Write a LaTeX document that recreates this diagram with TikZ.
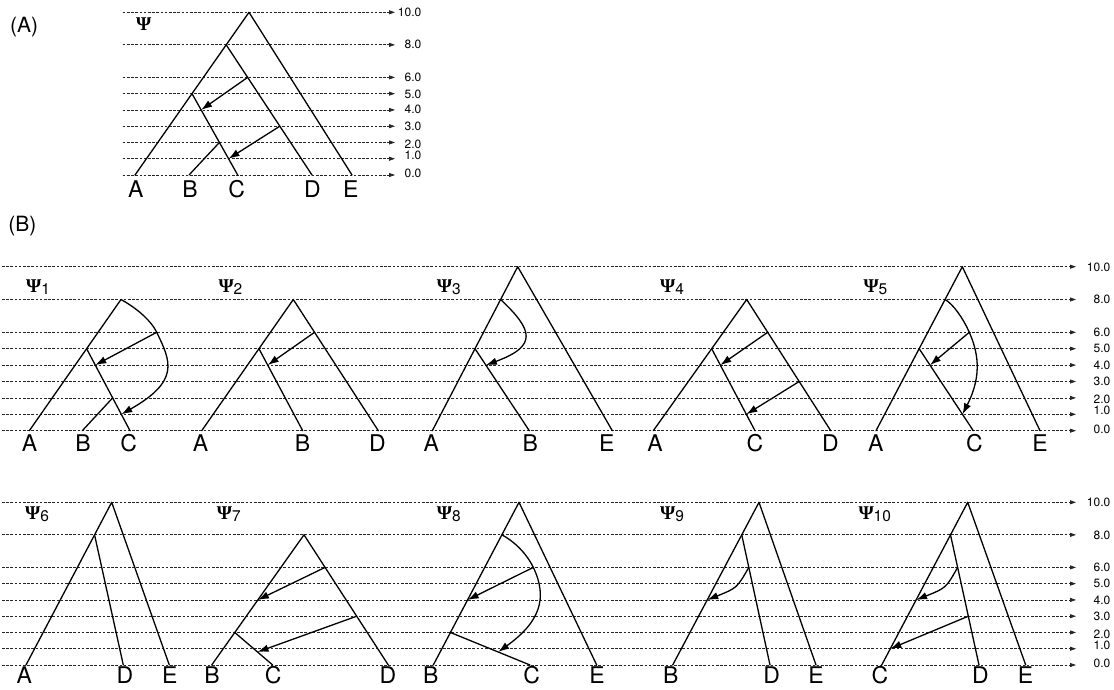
\documentclass[tikz,border=0pt]{standalone}
\usepackage{fontspec}
\setmainfont{TeX Gyre Heros}
\newfontfamily\psifont{Liberation Serif}
\usetikzlibrary{arrows.meta,calc}
\newcommand\psilab[1]{{\psifont\bfseries\fontsize{19.5}{19.5}\selectfont Ψ}\raisebox{-2pt}{\fontsize{15.5}{15.5}\selectfont #1}}
\begin{document}
\begin{tikzpicture}[x=1pt,y=-1pt,
 br/.style={line width=1.3pt, line cap=round, line join=round},
 mig/.style={br, -{Latex[length=11pt,width=7.5pt]}},
 axl/.style={line width=0.75pt, dash pattern=on 2.6pt off 1.6pt, black!85, -{Triangle[length=6pt,width=4pt]}},
 axv/.style={anchor=east, inner sep=0pt, font=\fontsize{12}{12}\selectfont},
 leaf/.style={anchor=base, inner sep=0pt, font=\fontsize{23}{23}\selectfont},
 psil/.style={anchor=base west, inner sep=0pt},
 panel/.style={anchor=base west, inner sep=0pt, font=\fontsize{21}{21}\selectfont}]
\useasboundingbox (0,0) rectangle (1114,689);

% panel labels
\node[panel] (pA) at (10,32.3) {(A)};
\node[panel] (pB) at (8.3,231.7) {(B)};

% axis lines, part A
\foreach \i/\v/\y/\ly in {1/10.0/12.3/12.3, 2/8.0/44.84/44.5, 3/6.0/77.38/77.4, 4/5.0/93.65/93.9, 5/4.0/109.92/109.8, 6/3.0/126.19/126.2, 7/2.0/142.46/144, 8/1.0/158.73/155.2, 9/0.0/175/173.3}{
  \coordinate (aL\i) at (122.7,\y);
  \coordinate (aR\i) at (395,\y);
  \draw[axl] (aL\i) -- (aR\i);
  \node[axv] (aV\i) at (421.5,\ly) {\v};
}
% axis lines, row 1
\foreach \i/\v/\y/\ly in {1/10.0/266.7/267.2, 2/8.0/299.5/299.8, 3/6.0/332.3/332.3, 4/5.0/348.7/348.7, 5/4.0/365.1/365.1, 6/3.0/381.5/381.5, 7/2.0/397.9/399.4, 8/1.0/414.3/410.8, 9/0.0/430.7/429}{
  \coordinate (bL\i) at (2,\y);
  \coordinate (bR\i) at (1076,\y);
  \draw[axl] (bL\i) -- (bR\i);
  \node[axv] (bV\i) at (1110.5,\ly) {\v};
}
% axis lines, row 2
\foreach \i/\v/\y/\ly in {1/10.0/502.3/502.8, 2/8.0/534.84/535.1, 3/6.0/567.38/567.4, 4/5.0/583.65/583.7, 5/4.0/599.92/599.9, 6/3.0/616.19/616.2, 7/2.0/632.46/634, 8/1.0/648.73/645.2, 9/0.0/665/663.3}{
  \coordinate (cL\i) at (2,\y);
  \coordinate (cR\i) at (1076,\y);
  \draw[axl] (cL\i) -- (cR\i);
  \node[axv] (cV\i) at (1110.5,\ly) {\v};
}

% ---------- Part A ----------
\node[psil] (psiA) at (136,30) {{\psifont\bfseries\fontsize{19.5}{19.5}\selectfont Ψ}};
\coordinate (AR) at (249,12.3);
\coordinate (AA) at (135,175);
\coordinate (AB) at (189,175);
\coordinate (AC) at (237.7,175);
\coordinate (AD) at (312,175);
\coordinate (AE) at (352,175);
\coordinate (An8) at ($(AA)!0.8!(AR)$);
\coordinate (An5) at ($(AA)!0.5!(AR)$);
\coordinate (An2) at ($(An5)!0.6!(AC)$);
\coordinate (As6) at ($(An8)!0.25!(AD)$);
\coordinate (As3) at ($(An8)!0.625!(AD)$);
\coordinate (At4) at ($(An5)!0.2!(AC)$);
\coordinate (At1) at ($(An5)!0.8!(AC)$);
\draw[br] (AA) -- (AR) -- (AE);
\draw[br] (An8) -- (AD);
\draw[br] (An5) -- (AC);
\draw[br] (AB) -- (An2);
\draw[mig] (As6) -- (At4);
\draw[mig] (As3) -- (At1);
\node[leaf] (lAA) at (135.8,197.3) {A};
\node[leaf] (lAB) at (190,197.3) {B};
\node[leaf] (lAC) at (236.7,197.3) {C};
\node[leaf] (lAD) at (312.5,197.3) {D};
\node[leaf] (lAE) at (350.8,197.3) {E};

% ---------- Psi1 ----------
\node[psil] (psi1) at (26,292) {\psilab{1}};
\coordinate (aR) at (121,299.5);
\coordinate (aA) at (29.3,430.7);
\coordinate (aB) at (82.3,430.7);
\coordinate (aC) at (130,430.7);
\coordinate (a5) at ($(aA)!0.625!(aR)$);
\coordinate (a2) at ($(a5)!0.6!(aC)$);
\coordinate (a6) at (156.7,332.3);
\coordinate (a4t) at ($(a5)!0.2!(aC)$);
\coordinate (a1t) at ($(a5)!0.8!(aC)$);
\draw[br] (aA) -- (aR);
\draw[br] (a5) -- (aC);
\draw[br] (aB) -- (a2);
\draw[br] (aR) .. controls (133,306) and (150,318.5) .. (a6);
\draw[mig] (a6) .. controls (171,361.6) and (180,381) .. (a1t);
\draw[mig] (a6) -- (a4t);
\node[leaf] (l1A) at (29.5,451.7) {A};
\node[leaf] (l1B) at (83,451.7) {B};
\node[leaf] (l1C) at (128.7,451.7) {C};

% ---------- Psi2 ----------
\node[psil] (psi2) at (218.3,292) {\psilab{2}};
\coordinate (bR) at (293.3,299.5);
\coordinate (bA) at (201.7,430.7);
\coordinate (bB) at (302.7,430.7);
\coordinate (bD) at (378.3,430.7);
\coordinate (b5) at ($(bA)!0.625!(bR)$);
\coordinate (b6) at ($(bR)!0.25!(bD)$);
\coordinate (b4t) at ($(b5)!0.2!(bB)$);
\draw[br] (bA) -- (bR) -- (bD);
\draw[br] (b5) -- (bB);
\draw[mig] (b6) -- (b4t);
\node[leaf] (l2A) at (200.5,451.7) {A};
\node[leaf] (l2B) at (302.5,451.7) {B};
\node[leaf] (l2D) at (377.5,451.7) {D};

% ---------- Psi3 ----------
\node[psil] (psi3) at (436.7,292) {\psilab{3}};
\coordinate (cR) at (517.7,266.7);
\coordinate (cA) at (432.3,430.7);
\coordinate (cB) at (529.3,430.7);
\coordinate (cE) at (612.3,430.7);
\coordinate (c8) at ($(cA)!0.8!(cR)$);
\coordinate (c5) at ($(cA)!0.5!(cR)$);
\coordinate (c4t) at ($(c5)!0.2!(cB)$);
\draw[br] (cA) -- (cR) -- (cE);
\draw[br] (c5) -- (cB);
\draw[mig] (c8) .. controls (533,330) and (538,346) .. (c4t);
\node[leaf] (l3A) at (431.3,451.7) {A};
\node[leaf] (l3B) at (530.3,451.7) {B};
\node[leaf] (l3E) at (606.7,451.7) {E};

% ---------- Psi4 ----------
\node[psil] (psi4) at (660,292) {\psilab{4}};
\coordinate (dR) at (746.7,299.5);
\coordinate (dA) at (653.3,430.7);
\coordinate (dC) at (755,430.7);
\coordinate (dD) at (830.7,430.7);
\coordinate (d5) at ($(dA)!0.625!(dR)$);
\coordinate (d6) at ($(dR)!0.25!(dD)$);
\coordinate (d3) at ($(dR)!0.625!(dD)$);
\coordinate (d4t) at ($(d5)!0.2!(dC)$);
\coordinate (d1t) at ($(d5)!0.8!(dC)$);
\draw[br] (dA) -- (dR) -- (dD);
\draw[br] (d5) -- (dC);
\draw[mig] (d6) -- (d4t);
\draw[mig] (d3) -- (d1t);
\node[leaf] (l4A) at (655,451.7) {A};
\node[leaf] (l4C) at (755,451.7) {C};
\node[leaf] (l4D) at (830.3,451.7) {D};

% ---------- Psi5 ----------
\node[psil] (psi5) at (863.3,292) {\psilab{5}};
\coordinate (eR) at (962.3,266.7);
\coordinate (eA) at (876,430.7);
\coordinate (eC) at (973.3,430.7);
\coordinate (eE) at (1040,430.7);
\coordinate (e8) at ($(eA)!0.8!(eR)$);
\coordinate (e5) at ($(eA)!0.5!(eR)$);
\coordinate (e6) at (969.3,332.3);
\coordinate (e4t) at ($(e5)!0.2!(eC)$);
\coordinate (e1t) at ($(e5)!0.8!(eC)$);
\draw[br] (eA) -- (eR) -- (eE);
\draw[br] (e5) -- (eC);
\draw[br] (e8) .. controls (953,304) and (963,318) .. (e6);
\draw[mig] (e6) .. controls (977.3,350.7) and (983,374) .. (e1t);
\draw[mig] (e6) -- (e4t);
\node[leaf] (l5A) at (875.8,451.7) {A};
\node[leaf] (l5C) at (974.3,451.7) {C};
\node[leaf] (l5E) at (1040,451.7) {E};

% ---------- Psi6 ----------
\node[psil] (psi6) at (25,519) {\psilab{6}};
\coordinate (fR) at (111.7,502.3);
\coordinate (fA) at (26,665);
\coordinate (fD) at (123.3,665);
\coordinate (fE) at (169.3,665);
\coordinate (f8) at ($(fA)!0.8!(fR)$);
\draw[br] (fA) -- (fR) -- (fE);
\draw[br] (f8) -- (fD);
\node[leaf] (l6A) at (24.2,683.5) {A};
\node[leaf] (l6D) at (125,683.5) {D};
\node[leaf] (l6E) at (169.7,683.5) {E};

% ---------- Psi7 ----------
\node[psil] (psi7) at (216.7,519) {\psilab{7}};
\coordinate (gR) at (304,534.84);
\coordinate (gB) at (211.7,665);
\coordinate (gC) at (272.7,665);
\coordinate (gD) at (388.3,665);
\coordinate (g2) at ($(gB)!0.25!(gR)$);
\coordinate (g6) at ($(gR)!0.25!(gD)$);
\coordinate (g3) at ($(gR)!0.625!(gD)$);
\coordinate (g4t) at ($(gB)!0.5!(gR)$);
\coordinate (g1t) at ($(g2)!0.6!(gC)$);
\draw[br] (gB) -- (gR) -- (gD);
\draw[br] (g2) -- (gC);
\draw[mig] (g6) -- (g4t);
\draw[mig] (g3) -- (g1t);
\node[leaf] (l7B) at (212,683.5) {B};
\node[leaf] (l7C) at (273.3,683.5) {C};
\node[leaf] (l7D) at (388,683.5) {D};

% ---------- Psi8 ----------
\node[psil] (psi8) at (436.7,519) {\psilab{8}};
\coordinate (hR) at (519,502.3);
\coordinate (hB) at (433.3,665);
\coordinate (hC) at (530,665);
\coordinate (hE) at (596.7,665);
\coordinate (h8) at ($(hB)!0.8!(hR)$);
\coordinate (h2) at ($(hB)!0.2!(hR)$);
\coordinate (h6) at (533.3,567.4);
\coordinate (h4t) at ($(hB)!0.4!(hR)$);
\coordinate (h1t) at ($(h2)!0.6!(hC)$);
\draw[br] (hB) -- (hR) -- (hE);
\draw[br] (h2) -- (hC);
\draw[br] (h8) .. controls (512,540) and (526,552) .. (h6);
\draw[mig] (h6) .. controls (548,598) and (540,622) .. (h1t);
\draw[mig] (h6) -- (h4t);
\node[leaf] (l8B) at (430.8,683.5) {B};
\node[leaf] (l8C) at (531.7,683.5) {C};
\node[leaf] (l8E) at (597,683.5) {E};

% ---------- Psi9 ----------
\node[psil] (psi9) at (660,519) {\psilab{9}};
\coordinate (iR) at (759,502.3);
\coordinate (iB) at (672.7,665);
\coordinate (iD) at (770,665);
\coordinate (iE) at (816,665);
\coordinate (i8) at ($(iB)!0.8!(iR)$);
\coordinate (i6) at ($(i8)!0.25!(iD)$);
\coordinate (i4t) at ($(iB)!0.4!(iR)$);
\draw[br] (iB) -- (iR) -- (iE);
\draw[br] (i8) -- (iD);
\draw[mig] (i6) .. controls (737,588) .. (i4t);
\node[leaf] (l9B) at (670.8,683.5) {B};
\node[leaf] (l9D) at (771.7,683.5) {D};
\node[leaf] (l9E) at (816,683.5) {E};

% ---------- Psi10 ----------
\node[psil] (psi10) at (858.3,519) {\psilab{10}};
\coordinate (jR) at (967.7,502.3);
\coordinate (jC) at (881.7,665);
\coordinate (jD) at (979,665);
\coordinate (jE) at (1025.7,665);
\coordinate (j8) at ($(jC)!0.8!(jR)$);
\coordinate (j6) at ($(j8)!0.25!(jD)$);
\coordinate (j3) at ($(j8)!0.625!(jD)$);
\coordinate (j4t) at ($(jC)!0.4!(jR)$);
\coordinate (j1t) at ($(jC)!0.1!(jR)$);
\draw[br] (jC) -- (jR) -- (jE);
\draw[br] (j8) -- (jD);
\draw[mig] (j6) .. controls (946,588) .. (j4t);
\draw[mig] (j3) -- (j1t);
\node[leaf] (l10C) at (880,683.5) {C};
\node[leaf] (l10D) at (980.5,683.5) {D};
\node[leaf] (l10E) at (1025.5,683.5) {E};
\end{tikzpicture}
\end{document}
